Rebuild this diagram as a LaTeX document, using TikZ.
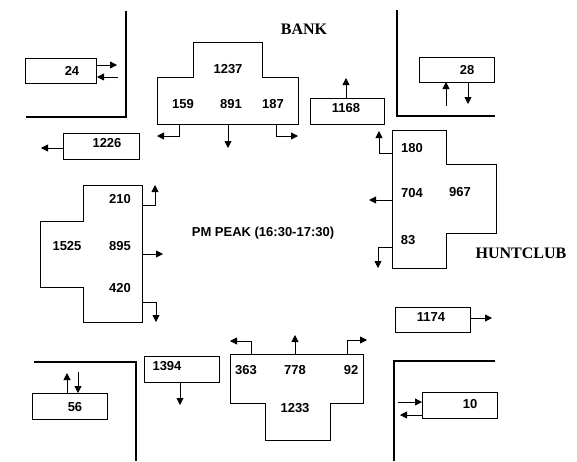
\documentclass[tikz,border=0pt]{standalone}
\usepackage{fontspec}
\setmainfont{Liberation Serif}
\setsansfont{Liberation Sans}
\usetikzlibrary{arrows.meta}

\begin{document}
\begin{tikzpicture}[x=1pt, y=-1pt,
  box/.style={draw, line width=0.8pt},
  kerb/.style={line width=2.4pt},
  flow/.style={line width=0.8pt, -{Triangle[length=7pt, width=7pt]}},
  num/.style={font=\sffamily\bfseries\fontsize{13}{13}\selectfont},
  street/.style={font=\bfseries\fontsize{16}{16}\selectfont}]
  \useasboundingbox (0,0) rectangle (577,461);
  % Bords des trottoirs (coins)
  \draw[kerb] (26,117) -- (126,117) -- (126,11);
  \draw[kerb] (397,10) -- (397,116) -- (495,116);
  \draw[kerb] (34,362) -- (136,362) -- (136,461);
  \draw[kerb] (495,361) -- (394,361) -- (394,461);
  % Noms des rues
  \node[street] (bank) at (304,29) {BANK};
  \node[street] (huntclub) at (521,253) {HUNTCLUB};
  \node[num] (peak) at (263,233) {PM PEAK (16:30-17:30)};
  % Pietons aux coins
  \draw[box] (25,58) rectangle (96,83);
  \node[num] (n24) at (72,71) {24};
  \draw[flow] (96,65) -- (117,65);
  \draw[flow] (118,77) -- (97,77);
  \draw[box] (419,57) rectangle (494,82);
  \node[num] (n28) at (467,70) {28};
  \draw[flow] (446,106) -- (446,82);
  \draw[flow] (468,82) -- (468,104);
  \draw[box] (32,393) rectangle (107,419);
  \node[num] (n56) at (75,407) {56};
  \draw[flow] (67,393) -- (67,373);
  \draw[flow] (78,372) -- (78,393);
  \draw[box] (422,392) rectangle (497,418);
  \node[num] (n10) at (470,404) {10};
  \draw[flow] (398,402) -- (422,402);
  \draw[flow] (422,415) -- (400,415);
  % Volumes sortants
  \draw[box] (63,133) rectangle (139,159);
  \node[num] (n1226) at (107,143) {1226};
  \draw[flow] (63,148) -- (41,148);
  \draw[box] (310,98) rectangle (384,124);
  \node[num] (n1168) at (346,108) {1168};
  \draw[flow] (346,98) -- (346,78);
  \draw[box] (144,356) rectangle (219,382);
  \node[num] (n1394) at (167,366) {1394};
  \draw[flow] (180,382) -- (180,405);
  \draw[box] (395,307) rectangle (470,332);
  \node[num] (n1174) at (431,317) {1174};
  \draw[flow] (470,318) -- (492,318);
  % Approche nord (Bank)
  \draw[box] (193,42) -- (262,42) -- (262,77) -- (298,77) -- (298,124)
    -- (157,124) -- (157,77) -- (193,77) -- cycle;
  \node[num] (n1237) at (228,69) {1237};
  \node[num] (n159) at (183,104) {159};
  \node[num] (n891) at (231,104) {891};
  \node[num] (n187) at (273,104) {187};
  \draw[flow] (179,124) -- (179,136) -- (157,136);
  \draw[flow] (228,124) -- (228,148);
  \draw[flow] (276,124) -- (276,136) -- (298,136);
  % Approche ouest
  \draw[box] (83,185) -- (142,185) -- (142,322) -- (83,322) -- (83,287)
    -- (40,287) -- (40,221) -- (83,221) -- cycle;
  \node[num] (n210) at (120,199) {210};
  \node[num] (n1525) at (67,246) {1525};
  \node[num] (n895) at (120,246) {895};
  \node[num] (n420) at (120,288) {420};
  \draw[flow] (142,205) -- (155,205) -- (155,185);
  \draw[flow] (142,254) -- (163,254);
  \draw[flow] (142,302) -- (156,302) -- (156,322);
  % Approche est (Huntclub)
  \draw[box] (392,130) -- (446,130) -- (446,164) -- (496,164) -- (496,233)
    -- (446,233) -- (446,268) -- (392,268) -- cycle;
  \node[num] (n180) at (412,148) {180};
  \node[num] (n704) at (412,193) {704};
  \node[num] (n967) at (460,192) {967};
  \node[num] (n83) at (408,240) {83};
  \draw[flow] (392,153) -- (379,153) -- (379,131);
  \draw[flow] (392,200) -- (369,200);
  \draw[flow] (392,247) -- (378,247) -- (378,268);
  % Approche sud
  \draw[box] (230,354) -- (363,354) -- (363,403) -- (330,403) -- (330,440)
    -- (265,440) -- (265,403) -- (230,403) -- cycle;
  \node[num] (n363) at (246,370) {363};
  \node[num] (n778) at (295,370) {778};
  \node[num] (n92) at (351,370) {92};
  \node[num] (n1233) at (295,408) {1233};
  \draw[flow] (251,354) -- (251,341) -- (230,341);
  \draw[flow] (295,354) -- (295,335);
  \draw[flow] (347,354) -- (347,340) -- (367,340);
\end{tikzpicture}
\end{document}
